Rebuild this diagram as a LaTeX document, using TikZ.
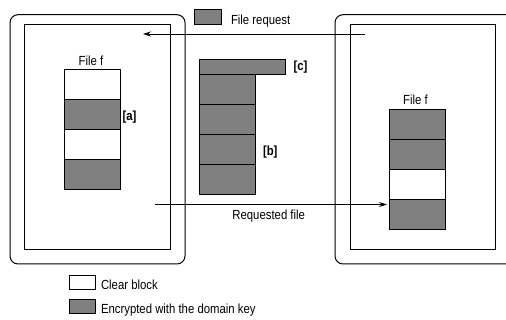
\documentclass[tikz,border=0pt]{standalone}
\usepackage{fontspec}
\setmainfont{Liberation Sans}[FakeStretch=0.86]
\usetikzlibrary{arrows.meta}
\definecolor{blockgray}{HTML}{808080}
\begin{document}
\begin{tikzpicture}[x=1pt,y=-1pt,line width=1pt,
  every node/.style={font=\fontsize{13.2}{15}\selectfont},
  blk/.style={draw, minimum width=55.7pt, minimum height=30pt, inner sep=0pt, outer sep=0pt, anchor=north west},
  clearblk/.style={blk, fill=white},
  encblk/.style={blk, fill=blockgray},
  legbox/.style={draw, minimum width=26.7pt, minimum height=14.5pt, inner sep=0pt, outer sep=0pt, anchor=north west},
  lbl/.style={inner sep=0pt, anchor=base west},
  tag/.style={inner sep=0pt, anchor=base west, font=\fontsize{13.2}{15}\selectfont\bfseries},
  arr/.style={-{Stealth[length=8pt,width=5pt]}, line width=0.9pt}
]
\useasboundingbox (0,0) rectangle (506,320);
\clip (0,0) rectangle (506,320);

% domains
\draw[rounded corners=8pt] (10,14.7) rectangle (185,264);
\draw (24.3,24.3) rectangle (170,249.3);
\draw[rounded corners=8pt] (335,14.7) rectangle (530,264);
\draw (350,24.3) rectangle (495,249.3);

% left file
\node[lbl, anchor=base] (lf) at (91,66) {File f};
\node[clearblk] (l1) at (64.3,69.3) {};
\node[encblk]   (l2) at (64.3,99.3) {};
\node[clearblk] (l3) at (64.3,129.3) {};
\node[encblk]   (l4) at (64.3,159.3) {};
\node[tag] (ta) at (122,121) {[a]};

% middle stack
\node[draw, fill=blockgray, minimum width=85.7pt, minimum height=15pt, inner sep=0pt, outer sep=0pt, anchor=north west] (m0) at (199.3,59.3) {};
\node[encblk] (m1) at (199.3,74.3) {};
\node[encblk] (m2) at (199.3,104.5) {};
\node[encblk] (m3) at (199.3,134.5) {};
\node[encblk] (m4) at (199.3,164.5) {};
\node[tag] (tc) at (293,70.5) {[c]};
\node[tag] (tb) at (262.5,155.5) {[b]};

% right file
\node[lbl, anchor=base] (rf) at (415.5,105) {File f};
\node[encblk]   (r1) at (389.7,109.3) {};
\node[encblk]   (r2) at (389.7,139.3) {};
\node[clearblk] (r3) at (389.7,169.3) {};
\node[encblk]   (r4) at (389.7,199.3) {};

% file request
\node[legbox, fill=blockgray, minimum width=27.5pt, minimum height=15pt] (frbox) at (194.2,9.3) {};
\node[lbl] (frtxt) at (230.5,24.5) {File request};
\coordinate (frs) at (365,34);
\coordinate (fre) at (143,34);
\draw[arr] (frs) -- (fre);

% requested file
\coordinate (rqs) at (155,204.5);
\coordinate (rqe) at (387,204.5);
\draw[arr] (rqs) -- (rqe);
\node[lbl, anchor=base] (rqtxt) at (268.7,219.5) {Requested file};

% legend
\node[legbox, fill=white] (lg1) at (69,275.2) {};
\node[lbl] (lg1t) at (100.5,289.7) {Clear block};
\node[legbox, fill=blockgray] (lg2) at (69,299.2) {};
\node[lbl] (lg2t) at (100.5,313.5) {Encrypted with the domain key};
\end{tikzpicture}
\end{document}
